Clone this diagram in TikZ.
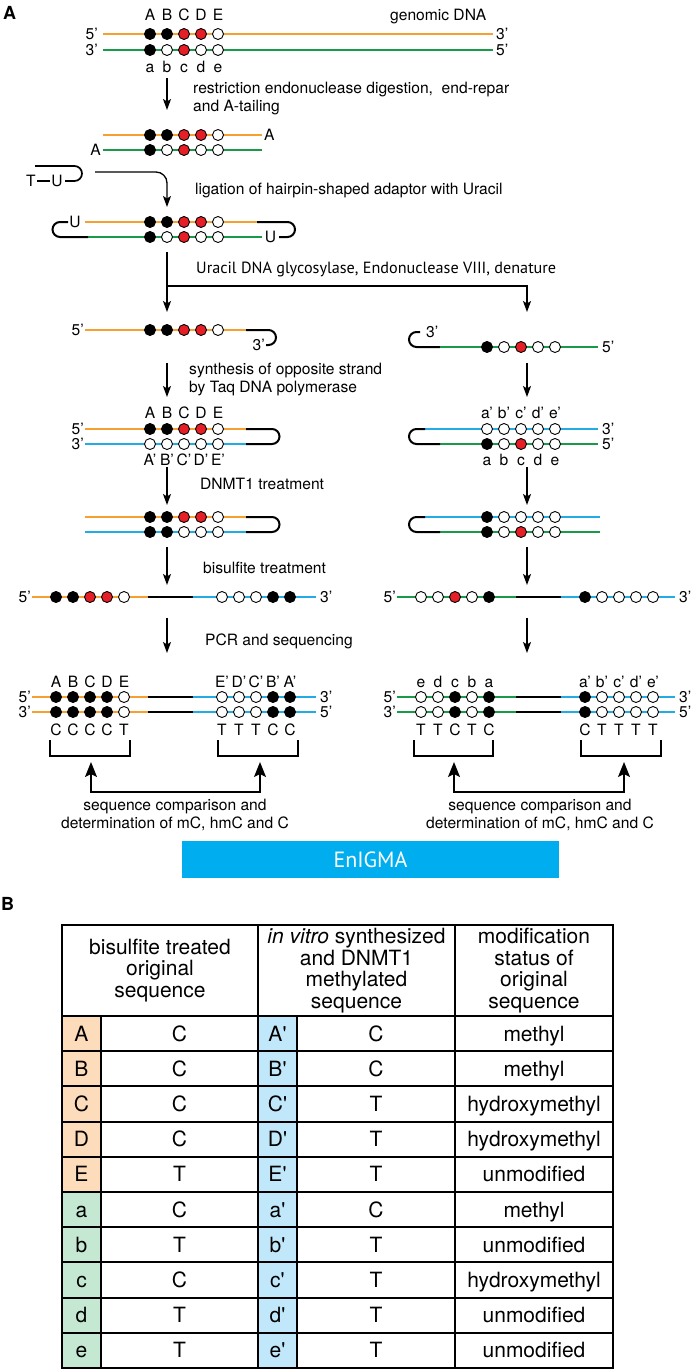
\documentclass[tikz,border=0pt]{standalone}
\usepackage{fontspec}
\setmainfont{TeX Gyre Heros}
\newfontfamily\myriadlike{PT Sans}
\usetikzlibrary{arrows.meta}
\definecolor{dnaorange}{RGB}{247,160,50}
\definecolor{dnagreen}{RGB}{24,154,72}
\definecolor{dnablue}{RGB}{35,172,228}
\definecolor{mred}{RGB}{230,30,37}
\definecolor{enigmablue}{RGB}{0,174,239}
\definecolor{fillorange}{RGB}{252,220,186}
\definecolor{fillgreen}{RGB}{196,232,210}
\definecolor{fillblue}{RGB}{192,232,250}
\newcommand\sites[4]{\foreach \clr [count=\i] in {#3}{\node[site,fill=\clr] (#4-\i) at ({#1+17*(\i-1)},#2) {};}}
\newcommand\seqlabels[4]{\foreach \txt [count=\i] in {#3}{\node[lbl] (#4-\i) at ({#1+17*(\i-1)},#2) {\txt};}}
\begin{document}
\begin{tikzpicture}[x=1pt,y=-1pt,
  lbl/.style={font=\fontsize{15.6}{18}\selectfont, inner sep=0pt, anchor=base},
  panel/.style={font=\bfseries\fontsize{18}{18}\selectfont, inner sep=0pt, anchor=base west},
  site/.style={circle, draw=black, line width=0.9pt, inner sep=0pt, minimum size=11pt},
  ostr/.style={draw=dnaorange, line width=2pt},
  gstr/.style={draw=dnagreen, line width=2pt},
  bstr/.style={draw=dnablue, line width=2pt},
  kstr/.style={draw=black, line width=2pt},
  arr/.style={draw=black, line width=1.3pt, -{Stealth[length=11pt,width=8pt,inset=2.5pt]}},
  bigarr/.style={draw=black, line width=1.5pt, {Stealth[length=15pt,width=12pt,inset=3pt]}-{Stealth[length=15pt,width=12pt,inset=3pt]}},
  brk/.style={draw=black, line width=1.5pt},
  tbl/.style={draw=black, line width=2pt},
  tcell/.style={font=\fontsize{21}{21.5}\selectfont, inner sep=0pt, anchor=base},
  thead/.style={font=\fontsize{21}{21.5}\selectfont, inner sep=0pt, align=center}]
\useasboundingbox (0,0) rectangle (693,1371);

% ---------------- Section 1: genomic DNA
\node[panel] (pA) at (3,19.5) {A};
\seqlabels{150}{20}{A,B,C,D,E}{L1}
\node[lbl,anchor=base west] (gdna) at (390,20) {genomic DNA};
\draw[ostr] (103,34) -- (493,34);
\draw[gstr] (103,50) -- (493,50);
\node[lbl,anchor=base east] (e1a) at (98,39.5) {5’};
\node[lbl,anchor=base west] (e1b) at (496,39.5) {3’};
\node[lbl,anchor=base east] (e1c) at (98,55.5) {3’};
\node[lbl,anchor=base west] (e1d) at (496,55.5) {5’};
\sites{150}{34}{black,black,mred,mred,white}{S1t}
\sites{150}{50}{black,white,mred,white,white}{S1b}
\seqlabels{150}{72}{a,b,c,d,e}{L2}
\coordinate (a1s) at (167,78); \coordinate (a1e) at (167,110);
\draw[arr] (a1s) -- (a1e);
\node[lbl,anchor=base west] (t1) at (193,93) {restriction endonuclease digestion,\ \ end-repar};
\node[lbl,anchor=base west] (t2) at (193,111) {and A-tailing};

% ---------------- Section 2: A-tailed, adaptor
\draw[ostr] (103,135) -- (262,135);
\draw[gstr] (103,150) -- (262,150);
\node[lbl,anchor=base west] (tA1) at (264,140.5) {A};
\node[lbl,anchor=base east] (tA2) at (101,155.5) {A};
\sites{150}{135}{black,black,mred,mred,white}{S2t}
\sites{150}{150}{black,white,mred,white,white}{S2b}
\draw[kstr,line width=1.7pt] (35,166) -- (74.5,166) arc[start angle=90,end angle=-90,radius=7.5pt] -- (65,181);
\node[lbl] (adT) at (31,186.5) {T};
\node[lbl] (adU) at (57,186.5) {U};
\draw[black,line width=1.5pt] (adT.east |- 0,181) ++(1.5,0) -- ([xshift=-1.5pt]adU.west |- 0,181);
\coordinate (a2s) at (95,172); \coordinate (a2e) at (167,207);
\draw[arr,rounded corners=11pt] (a2s) -| (a2e);
\node[lbl,anchor=base west] (t3) at (195,194) {ligation of hairpin-shaped adaptor with Uracil};
% ligated
\draw[ostr] (85,222) -- (257,222);
\draw[kstr] (257,222) -- (287.5,222) arc[start angle=90,end angle=-90,radius=7.5pt] -- (279,237);
\draw[gstr] (88,237) -- (262,237);
\draw[kstr] (68,222) -- (60,222) arc[start angle=90,end angle=270,radius=7.5pt] -- (88,237);
\node[lbl] (lU1) at (75,227.5) {U};
\node[lbl] (lU2) at (270.5,242.5) {U};
\sites{150}{222}{black,black,mred,mred,white}{S3t}
\sites{150}{237}{black,white,mred,white,white}{S3b}

% ---------------- Section 3: UDG, denature
\coordinate (a3s) at (167,252); \coordinate (a3e) at (167,312);
\draw[arr] (a3s) -- (a3e);
\coordinate (br) at (167,286); \coordinate (a3r) at (527,312);
\draw[arr] (br) -| (a3r);
\node[inner sep=0pt,anchor=base west,font=\myriadlike\fontsize{16.2}{18}\selectfont] (t4) at (196,273) {Uracil DNA glycosylase, Endonuclease VIII, denature};
% left single strand
\draw[ostr] (85,330) -- (246,330);
\draw[kstr] (246,330) -- (268.5,330) arc[start angle=90,end angle=-90,radius=7.5pt] -- (266,345);
\node[lbl,anchor=base east] (e3a) at (84,335.5) {5’};
\node[lbl,anchor=base east] (e3b) at (265,350.5) {3’};
\sites{150}{330}{black,black,mred,mred,white}{S4}
% right single strand
\draw[kstr] (420,332) -- (416.5,332) arc[start angle=90,end angle=270,radius=7.5pt] -- (440,347);
\draw[gstr] (440,347) -- (598,347);
\node[lbl,anchor=base west] (e3c) at (426,337.5) {3’};
\node[lbl,anchor=base west] (e3d) at (602,352.5) {5’};
\sites{487}{347}{black,white,mred,white,white}{S5}
% arrows
\coordinate (a4s) at (167,363); \coordinate (a4e) at (167,397);
\coordinate (b4s) at (527,363); \coordinate (b4e) at (527,397);
\draw[arr] (a4s) -- (a4e); \draw[arr] (b4s) -- (b4e);
\node[lbl,anchor=base west] (t5) at (189,374) {synthesis of opposite strand};
\node[lbl,anchor=base west] (t6) at (189,392) {by Taq DNA polymerase};
% left double
\seqlabels{150}{418.5}{A,B,C,D,E}{L3}
\draw[ostr] (85,429) -- (246,429);
\draw[bstr] (85,444) -- (246,444);
\draw[kstr] (246,429) -- (272,429) arc[start angle=90,end angle=-90,radius=7.5pt] -- (246,444);
\node[lbl,anchor=base east] (e4a) at (84,434.5) {5’};
\node[lbl,anchor=base east] (e4b) at (84,449.5) {3’};
\sites{150}{429}{black,black,mred,mred,white}{S6t}
\sites{150}{444}{white,white,white,white,white}{S6b}
\seqlabels{150}{465.5}{A’,B’,C’,D’,E’}{L4}
% right double
\seqlabels{487}{418.5}{a’,b’,c’,d’,e’}{L5}
\draw[bstr] (424,429) -- (598,429);
\draw[gstr] (440,444) -- (598,444);
\draw[kstr] (425,429) -- (416.5,429) arc[start angle=90,end angle=270,radius=7.5pt] -- (440,444);
\node[lbl,anchor=base west] (e4c) at (602,434.5) {3’};
\node[lbl,anchor=base west] (e4d) at (602,449.5) {5’};
\sites{487}{429}{white,white,white,white,white}{S7t}
\sites{487}{444}{black,white,mred,white,white}{S7b}
\seqlabels{487}{465.5}{a,b,c,d,e}{L6}

% ---------------- Section 4: DNMT1, bisulfite
\coordinate (a5s) at (167,467); \coordinate (a5e) at (167,505);
\coordinate (b5s) at (527,467); \coordinate (b5e) at (527,505);
\draw[arr] (a5s) -- (a5e); \draw[arr] (b5s) -- (b5e);
\node[lbl,anchor=base west] (t7) at (200,489) {DNMT1 treatment};
\draw[ostr] (85,517) -- (246,517);
\draw[bstr] (85,532) -- (246,532);
\draw[kstr] (246,517) -- (272,517) arc[start angle=90,end angle=-90,radius=7.5pt] -- (246,532);
\sites{150}{517}{black,black,mred,mred,white}{S8t}
\sites{150}{532}{black,black,white,white,white}{S8b}
\draw[bstr] (424,517) -- (600,517);
\draw[gstr] (440,532) -- (600,532);
\draw[kstr] (425,517) -- (416.5,517) arc[start angle=90,end angle=270,radius=7.5pt] -- (440,532);
\sites{487}{517}{black,white,white,white,white}{S9t}
\sites{487}{532}{black,white,mred,white,white}{S9b}
\coordinate (a6s) at (167,547); \coordinate (a6e) at (167,585);
\coordinate (b6s) at (527,547); \coordinate (b6e) at (527,585);
\draw[arr] (a6s) -- (a6e); \draw[arr] (b6s) -- (b6e);
\node[lbl,anchor=base west] (t8) at (203,573) {bisulfite treatment};
% long single strands
\draw[ostr] (32,597) -- (148,597);
\draw[kstr] (148,597) -- (193,597);
\draw[bstr] (193,597) -- (316,597);
\node[lbl,anchor=base east] (e5a) at (31,602.5) {5’};
\node[lbl,anchor=base west] (e5b) at (320,602.5) {3’};
\sites{56}{597}{black,black,mred,mred,white}{S10a}
\sites{222}{597}{white,white,white,black,black}{S10b}
\draw[gstr] (397,597) -- (516,597);
\draw[kstr] (516,597) -- (561,597);
\draw[bstr] (561,597) -- (675,597);
\node[lbl,anchor=base east] (e5c) at (396,602.5) {5’};
\node[lbl,anchor=base west] (e5d) at (679,602.5) {3’};
\sites{421}{597}{white,white,mred,white,black}{S11a}
\sites{585}{597}{black,white,white,white,white}{S11b}

% ---------------- Section 5: PCR and sequencing
\coordinate (a7s) at (167,618); \coordinate (a7e) at (167,653);
\coordinate (b7s) at (527,618); \coordinate (b7e) at (527,653);
\draw[arr] (a7s) -- (a7e); \draw[arr] (b7s) -- (b7e);
\node[lbl,anchor=base west] (t9) at (205,645) {PCR and sequencing};
\seqlabels{56}{687.5}{A,B,C,D,E}{L7}
\seqlabels{222}{687.5}{E’,D’,C’,B’,A’}{L8}
\seqlabels{421}{687.5}{e,d,c,b,a}{L9}
\seqlabels{585}{687.5}{a’,b’,c’,d’,e’}{L10}
\foreach \yy/\nm in {697/T,712/B}{
  \draw[ostr] (32,\yy) -- (148,\yy);
  \draw[kstr] (148,\yy) -- (193,\yy);
  \draw[bstr] (193,\yy) -- (316,\yy);
  \draw[gstr] (397,\yy) -- (516,\yy);
  \draw[kstr] (516,\yy) -- (561,\yy);
  \draw[bstr] (561,\yy) -- (675,\yy);
  \sites{56}{\yy}{black,black,black,black,white}{P1\nm}
  \sites{222}{\yy}{white,white,white,black,black}{P2\nm}
  \sites{421}{\yy}{white,white,black,white,black}{P3\nm}
  \sites{585}{\yy}{black,white,white,white,white}{P4\nm}
}
\node[lbl,anchor=base east] (e6a) at (31,702.5) {5’};
\node[lbl,anchor=base east] (e6b) at (31,717.5) {3’};
\node[lbl,anchor=base west] (e6c) at (320,702.5) {3’};
\node[lbl,anchor=base west] (e6d) at (320,717.5) {5’};
\node[lbl,anchor=base east] (e6e) at (396,702.5) {5’};
\node[lbl,anchor=base east] (e6f) at (396,717.5) {3’};
\node[lbl,anchor=base west] (e6g) at (679,702.5) {3’};
\node[lbl,anchor=base west] (e6h) at (679,717.5) {5’};
\seqlabels{56}{735.5}{C,C,C,C,T}{R1}
\seqlabels{222}{735.5}{T,T,T,C,C}{R2}
\seqlabels{421}{735.5}{T,T,C,T,C}{R3}
\seqlabels{585}{735.5}{C,T,T,T,T}{R4}
% brackets
\draw[brk] (50,740) -- (50,756) -- (130,756) -- (130,740);
\draw[brk] (218,740) -- (218,756) -- (298,756) -- (298,740);
\draw[brk] (414,740) -- (414,756) -- (493,756) -- (493,740);
\draw[brk] (581,740) -- (581,756) -- (661,756) -- (661,740);
\coordinate (u1) at (91,762); \coordinate (u2) at (260,762);
\coordinate (u3) at (454,762); \coordinate (u4) at (624,762);
\draw[bigarr] (u1) -- (91,792) -- (260,792) -- (u2);
\draw[bigarr] (u3) -- (454,792) -- (624,792) -- (u4);
\node[lbl] (t10) at (175,810) {sequence comparison and};
\node[lbl] (t11) at (175,828) {determination of mC, hmC and C};
\node[lbl] (t12) at (540,810) {sequence comparison and};
\node[lbl] (t13) at (540,828) {determination of mC, hmC and C};
\node[fill=enigmablue, minimum width=377pt, minimum height=37pt, inner sep=0pt, text=white,
  font=\myriadlike\fontsize{22}{22}\selectfont] (enigma) at (370.5,859.5) {EnIGMA};

% ---------------- Panel B: table
\node[panel] (pB) at (1,910) {B};
\fill[fillorange] (62,1016) rectangle (101,1192);
\fill[fillgreen] (62,1192) rectangle (101,1368);
\fill[fillblue] (258,1016) rectangle (297,1368);
\draw[tbl] (62,925) rectangle (613,1368);
\draw[tbl] (258,925) -- (258,1368);
\draw[tbl] (455,925) -- (455,1368);
\draw[tbl] (101,1016) -- (101,1368);
\draw[tbl] (297,1016) -- (297,1368);
\foreach \k in {0,...,9}{\draw[tbl] (62,{1016+35.2*\k}) -- (613,{1016+35.2*\k});}
\node[thead] (h1) at (160,970.5) {bisulfite treated\\original\\sequence};
\node[thead] (h2) at (356.5,970.5) {\textit{in vitro} synthesized\\and DNMT1\\methylated\\sequence};
\node[thead] (h3) at (534,970.5) {modification\\status of\\original\\sequence};
\foreach \la/\sa/\sb/\md [count=\k] in {A/C/C/methyl,B/C/C/methyl,C/C/T/hydroxymethyl,D/C/T/hydroxymethyl,E/T/T/unmodified,a/C/C/methyl,b/T/T/unmodified,c/C/T/hydroxymethyl,d/T/T/unmodified,e/T/T/unmodified}{
  \node[tcell] (r\k-1) at (81.5,{1016+35.2*(\k-0.5)+7.5}) {\la};
  \node[tcell] (r\k-2) at (179.5,{1016+35.2*(\k-0.5)+7.5}) {\sa};
  \node[tcell] (r\k-3) at (277.5,{1016+35.2*(\k-0.5)+7.5}) {\la\textquotesingle};
  \node[tcell] (r\k-4) at (376,{1016+35.2*(\k-0.5)+7.5}) {\sb};
  \node[tcell] (r\k-5) at (534,{1016+35.2*(\k-0.5)+7.5}) {\md};
}
\end{tikzpicture}
\end{document}
